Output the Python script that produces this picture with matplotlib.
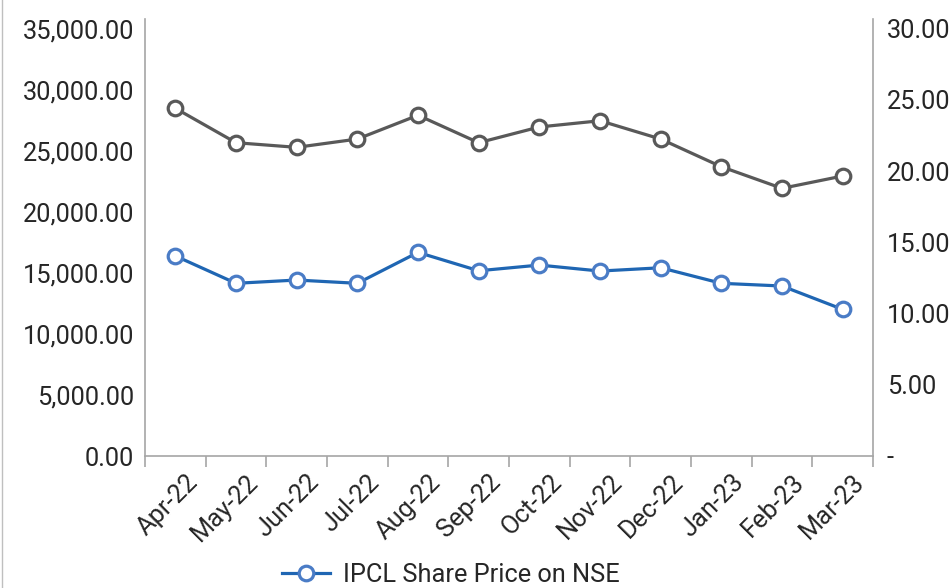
import numpy as np
import matplotlib
matplotlib.use("Agg")
import matplotlib.pyplot as plt
import matplotlib.transforms as mtransforms
from matplotlib.lines import Line2D
from matplotlib.ticker import FuncFormatter, FixedLocator

months = ["Apr-22", "May-22", "Jun-22", "Jul-22", "Aug-22", "Sep-22",
          "Oct-22", "Nov-22", "Dec-22", "Jan-23", "Feb-23", "Mar-23"]
# grey series, left axis
index_vals = [28500, 25680, 25300, 25980, 27930, 25680,
              26970, 27480, 25980, 23710, 21940, 22950]
# IPCL share price, right axis
ipcl_price = [14.04, 12.12, 12.35, 12.12, 14.29, 13.00,
              13.40, 12.98, 13.21, 12.12, 11.93, 10.29]

plt.rcParams['font.family'] = ['Roboto', 'DejaVu Sans']

fig = plt.figure(figsize=(9.51, 5.88), dpi=100)
ax = fig.add_axes([145 / 951, 1 - 456 / 588, (873 - 145) / 951, (456 - 19) / 588])
ax2 = ax.twinx()

x = np.arange(len(months))
spine_c = "#a6a6a6"
txt_c = "#262626"
fs = 18.3

ax.plot(x, index_vals, color="#595959", lw=2.3, marker="o", ms=10.5,
        mfc="white", mec="#595959", mew=2.3, zorder=3)
ax2.plot(x, ipcl_price, color="#1f66b3", lw=2.3, marker="o", ms=10.5,
         mfc="white", mec="#4a7cc6", mew=2.3, zorder=3,
         label="IPCL Share Price on NSE")

ax.set_xlim(-0.5, len(months) - 0.5)
ax.set_ylim(0, 35820)
ax2.set_ylim(0, 30.67)

ax.yaxis.set_major_locator(FixedLocator(np.arange(0, 35001, 5000)))
ax.yaxis.set_major_formatter(FuncFormatter(lambda v, p: "{:,.2f}".format(v)))
ax2.yaxis.set_major_locator(FixedLocator(np.arange(0, 31, 5)))
ax2.yaxis.set_major_formatter(FuncFormatter(lambda v, p: "-" if v == 0 else "{:.2f}".format(v)))

ax.set_xticks(x)
ax.set_xticklabels(months, rotation=45, ha="right", rotation_mode="anchor")
ax.xaxis.set_minor_locator(FixedLocator(np.arange(-0.5, len(months), 1)))
ax.tick_params(axis="x", which="major", length=0, pad=10, labelsize=fs, labelcolor=txt_c)
ax.tick_params(axis="x", which="minor", length=8, width=1.2, color=spine_c, direction="out")
offset = mtransforms.ScaledTranslation(0.10, 0, fig.dpi_scale_trans)
for lbl in ax.get_xticklabels():
    lbl.set_transform(lbl.get_transform() + offset)

ax.tick_params(axis="y", length=0, pad=8, labelsize=fs, labelcolor=txt_c)
ax2.tick_params(axis="y", length=0, pad=10, labelsize=fs, labelcolor=txt_c)

for a in (ax, ax2):
    a.spines["top"].set_visible(False)
    for s in ("left", "right", "bottom"):
        a.spines[s].set_color(spine_c)
        a.spines[s].set_linewidth(1.2)
ax.spines["right"].set_visible(False)
ax2.spines["left"].set_visible(False)
ax2.spines["bottom"].set_visible(False)

# outer chart border (only left edge visible)
fig.add_artist(Line2D([2 / 951, 2 / 951], [0, 1], color="#bfbfbf", lw=1.0,
                      transform=fig.transFigure))

fig.legend(loc="center", bbox_to_anchor=(0.474, 0.022), frameon=False,
           fontsize=fs, handlelength=1.9, handletextpad=0.5, labelcolor=txt_c)

fig.savefig("out.png", dpi=100)
